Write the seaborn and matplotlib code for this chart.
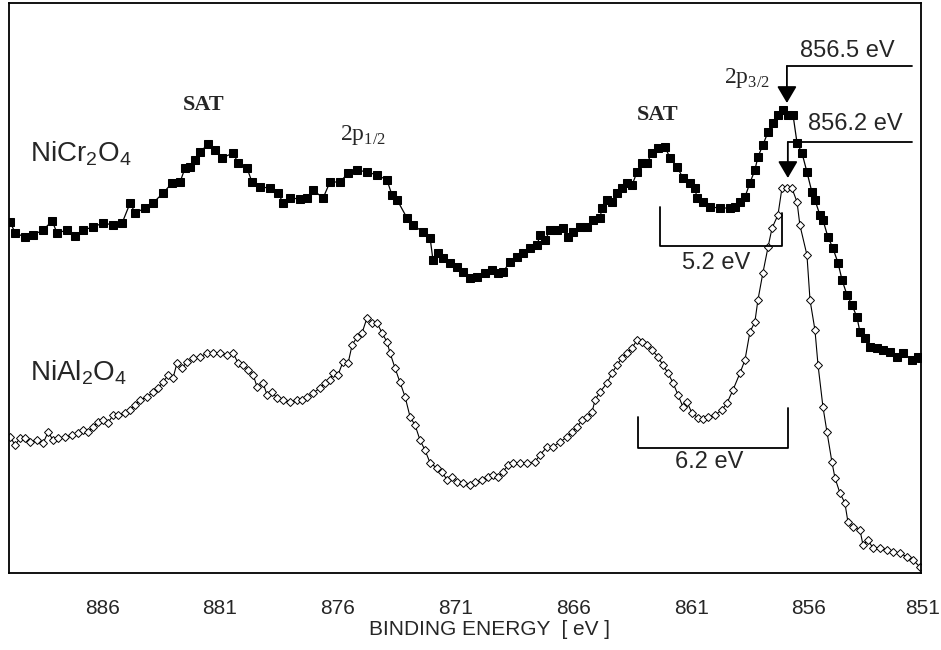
import numpy as np
import pandas as pd
import matplotlib
matplotlib.use("Agg")
import matplotlib.pyplot as plt
import matplotlib.transforms as mtransforms
import seaborn as sns

# ---------------- data ----------------
nicr_energy = [889.90, 889.69, 889.27, 888.93, 888.50, 888.12, 887.91, 887.48, 887.15, 886.81,
               886.38, 885.96, 885.53, 885.15, 884.81, 884.60, 884.17, 883.84, 883.41, 883.03,
               882.69, 882.48, 882.27, 882.05, 881.84, 881.50, 881.21, 880.91, 880.44, 880.23,
               879.85, 879.64, 879.30, 878.87, 878.53, 878.32, 878.02, 877.60, 877.30, 877.05,
               876.62, 876.33, 875.90, 875.56, 875.18, 874.76, 874.33, 873.91, 873.70, 873.48,
               873.06, 872.81, 872.38, 872.08, 871.96, 871.74, 871.53, 871.24, 870.94, 870.68,
               870.39, 870.09, 869.75, 869.45, 869.20, 868.99, 868.69, 868.39, 868.14, 867.84,
               867.54, 867.42, 867.20, 866.99, 866.70, 866.44, 866.23, 866.02, 865.72, 865.42,
               865.17, 864.87, 864.79, 864.57, 864.36, 864.15, 863.94, 863.73, 863.51, 863.30,
               863.09, 862.88, 862.66, 862.41, 862.11, 861.90, 861.60, 861.35, 861.05, 860.84,
               860.76, 860.50, 860.20, 859.78, 859.36, 859.14, 858.93, 858.72, 858.51, 858.30,
               858.17, 857.96, 857.74, 857.53, 857.32, 857.11, 856.90, 856.68, 856.51, 856.30,
               856.09, 855.88, 855.75, 855.54, 855.41, 855.20, 854.99, 854.77, 854.60, 854.39,
               854.18, 853.97, 853.84, 853.63, 853.42, 853.12, 852.86, 852.57, 852.27, 852.02,
               851.63, 851.38, 851.25]
nicr_intensity = [351, 340, 336, 338, 343, 352, 340, 343, 337, 343,
                  346, 350, 348, 350, 370, 360, 365, 370, 380, 390,
                  391, 405, 406, 413, 421, 429, 423, 415, 420, 410,
                  405, 391, 386, 385, 380, 370, 375, 374, 375, 383,
                  375, 391, 391, 400, 403, 401, 398, 393, 378, 373,
                  355, 348, 341, 335, 313, 320, 315, 310, 306, 301,
                  295, 296, 300, 303, 300, 301, 311, 316, 320, 325,
                  328, 338, 333, 343, 343, 345, 336, 341, 346, 346,
                  353, 355, 365, 373, 371, 380, 385, 390, 388, 401,
                  410, 410, 420, 425, 426, 415, 406, 395, 390, 385,
                  375, 371, 366, 365, 365, 366, 371, 376, 390, 403,
                  416, 428, 441, 450, 458, 463, 458, 458, 430, 420,
                  401, 381, 373, 358, 353, 336, 325, 310, 293, 278,
                  268, 256, 241, 235, 226, 225, 223, 221, 216, 220,
                  213, 216, 215]

nial_energy = [889.90, 889.69, 889.48, 889.27, 889.05, 888.76, 888.50, 888.29, 888.08, 887.87,
               887.57, 887.27, 887.02, 886.81, 886.59, 886.38, 886.17, 885.96, 885.75, 885.53,
               885.32, 885.02, 884.81, 884.60, 884.39, 884.09, 883.84, 883.62, 883.41, 883.20,
               882.99, 882.82, 882.61, 882.39, 882.14, 881.84, 881.55, 881.29, 880.99, 880.70,
               880.44, 880.23, 880.02, 879.81, 879.59, 879.42, 879.17, 879.00, 878.79, 878.58,
               878.32, 878.02, 877.73, 877.51, 877.30, 877.05, 876.75, 876.54, 876.33, 876.20,
               875.99, 875.78, 875.56, 875.39, 875.18, 874.97, 874.76, 874.54, 874.33, 874.12,
               873.91, 873.78, 873.57, 873.36, 873.14, 872.93, 872.72, 872.51, 872.30, 872.08,
               871.79, 871.57, 871.36, 871.15, 870.94, 870.68, 870.39, 870.17, 869.88, 869.62,
               869.41, 869.20, 868.99, 868.77, 868.56, 868.27, 867.97, 867.63, 867.42, 867.12,
               866.87, 866.57, 866.27, 866.06, 865.85, 865.63, 865.42, 865.21, 865.08, 864.87,
               864.57, 864.36, 864.15, 863.94, 863.73, 863.51, 863.30, 863.09, 862.88, 862.66,
               862.41, 862.20, 861.99, 861.77, 861.56, 861.35, 861.18, 860.97, 860.71, 860.50,
               860.29, 859.99, 859.70, 859.48, 859.23, 858.93, 858.72, 858.51, 858.30, 858.17,
               857.96, 857.74, 857.57, 857.32, 857.15, 856.94, 856.73, 856.51, 856.39, 856.09,
               855.96, 855.75, 855.62, 855.41, 855.24, 855.03, 854.90, 854.69, 854.48, 854.35,
               854.14, 853.84, 853.71, 853.50, 853.29, 852.99, 852.69, 852.44, 852.14, 851.85,
               851.59, 851.29]
nial_intensity = [136, 128, 135, 135, 131, 133, 130, 141, 133, 135,
                  136, 138, 140, 143, 141, 146, 151, 153, 150, 158,
                  158, 160, 163, 168, 173, 176, 181, 185, 191, 198,
                  195, 210, 205, 211, 215, 216, 220, 220, 220, 218,
                  220, 210, 208, 203, 198, 186, 190, 178, 181, 175,
                  173, 171, 173, 173, 176, 180, 185, 190, 193, 200,
                  198, 211, 210, 228, 236, 240, 255, 250, 250, 240,
                  231, 220, 205, 191, 176, 156, 148, 133, 123, 110,
                  105, 101, 93, 96, 91, 90, 88, 91, 93, 96,
                  98, 96, 101, 108, 110, 110, 110, 111, 118, 126,
                  126, 131, 136, 141, 146, 153, 156, 161, 173, 181,
                  190, 200, 208, 215, 220, 225, 233, 231, 228, 223,
                  216, 208, 200, 190, 178, 166, 171, 160, 155, 154,
                  156, 158, 163, 170, 183, 200, 213, 241, 251, 273,
                  300, 326, 345, 358, 385, 385, 385, 371, 348, 318,
                  273, 243, 208, 166, 141, 111, 95, 80, 70, 51,
                  46, 43, 28, 33, 25, 25, 23, 21, 20, 16,
                  13, 6]

tick_values = [886, 881, 876, 871, 866, 861, 856, 851]
tick_labels = ["886", "881", "876", "871", "866", "861", "856", "851"]
x_label = "BINDING ENERGY  [ eV ]"

# annotation anchors (energy, intensity)
peak_cr = 856.94
peak_al = 856.90

# ---------------- style ----------------
sns.set_style("white")
plt.rcParams["font.family"] = ["Liberation Sans", "DejaVu Sans"]
plt.rcParams["mathtext.fontset"] = "custom"
plt.rcParams["mathtext.rm"] = "Liberation Sans"

fig = plt.figure(figsize=(9.41, 6.5), dpi=100)
ax = fig.add_axes([9 / 941, 77 / 650, 912 / 941, 570 / 650])

df_cr = pd.DataFrame({"energy": nicr_energy, "intensity": nicr_intensity})
df_al = pd.DataFrame({"energy": nial_energy, "intensity": nial_intensity})

sns.lineplot(data=df_cr, x="energy", y="intensity", ax=ax, sort=False, estimator=None,
             color="black", linewidth=0.9, marker="s", markersize=5.4,
             markerfacecolor="black", markeredgecolor="black", legend=False)
sns.lineplot(data=df_al, x="energy", y="intensity", ax=ax, sort=False, estimator=None,
             color="black", linewidth=0.8, marker="D", markersize=3.6,
             markerfacecolor="white", markeredgecolor="black", markeredgewidth=0.7,
             legend=False)

ax.set_xlim(889.95, 851.25)
ax.set_ylim(0, 570)
ax.set_yticks([])
ax.set_ylabel("")
ax.set_xticks(tick_values[:-1])
ax.set_xticklabels(tick_labels[:-1], fontsize=15)
ax.tick_params(axis="x", length=0, pad=19)
for s in ax.spines.values():
    s.set_linewidth(1.3)
    s.set_color("black")

# last tick label sits just past the right frame, flush with the image edge
trans = mtransforms.offset_copy(ax.get_xaxis_transform(), fig=fig, x=-3, y=-19, units="points")
ax.text(tick_values[-1], 0, tick_labels[-1], transform=trans, ha="center", va="top",
        fontsize=15, clip_on=False)

ax.set_xlabel(x_label, fontsize=15)
ax.xaxis.set_label_coords(0.527, -0.083)

# ---------------- annotations ----------------
serif = ["Liberation Serif", "DejaVu Serif"]
ax.text(881.71, 468, "SAT", family=serif, weight="bold", fontsize=16, ha="center", va="center")
ax.text(862.41, 458, "SAT", family=serif, weight="bold", fontsize=16, ha="center", va="center")
ax.text(874.93, 438, r"2p$_\mathregular{1/2}$", family=serif, fontsize=17, ha="center", va="center")
ax.text(858.63, 495, r"2p$_\mathregular{3/2}$", family=serif, fontsize=17, ha="center", va="center")

ax.text(889.05, 412, r"NiCr$_\mathregular{2}$O$_\mathregular{4}$", fontsize=20, ha="left", va="baseline")
ax.text(889.05, 193, r"NiAl$_\mathregular{2}$O$_\mathregular{4}$", fontsize=20, ha="left", va="baseline")

arrow_style = dict(arrowstyle="-|>,head_length=0.85,head_width=0.5", color="black",
                   lw=1.3, shrinkA=0, shrinkB=0, mutation_scale=12)

# 856.5 eV marker
ax.plot([851.63, peak_cr], [507, 507], color="black", lw=1.3)
ax.annotate("", xy=(peak_cr, 470), xytext=(peak_cr, 507), arrowprops=arrow_style)
ax.text(854.39, 522, "856.5 eV", fontsize=17, ha="center", va="center")

# 856.2 eV marker
ax.plot([851.63, peak_al], [431, 431], color="black", lw=1.3)
ax.annotate("", xy=(peak_al, 395), xytext=(peak_al, 431), arrowprops=arrow_style)
ax.text(854.05, 449, "856.2 eV", fontsize=17, ha="center", va="center")

# 5.2 eV bracket
ax.plot([862.33, 862.33, 857.15, 857.15], [366, 327, 327, 360], color="black", lw=1.3)
ax.text(859.95, 310, "5.2 eV", fontsize=17, ha="center", va="center")

# 6.2 eV bracket
ax.plot([863.26, 863.26, 856.90, 856.90], [156, 125, 125, 165], color="black", lw=1.3)
ax.text(860.25, 111, "6.2 eV", fontsize=17, ha="center", va="center")

fig.savefig("out.png", dpi=100)
